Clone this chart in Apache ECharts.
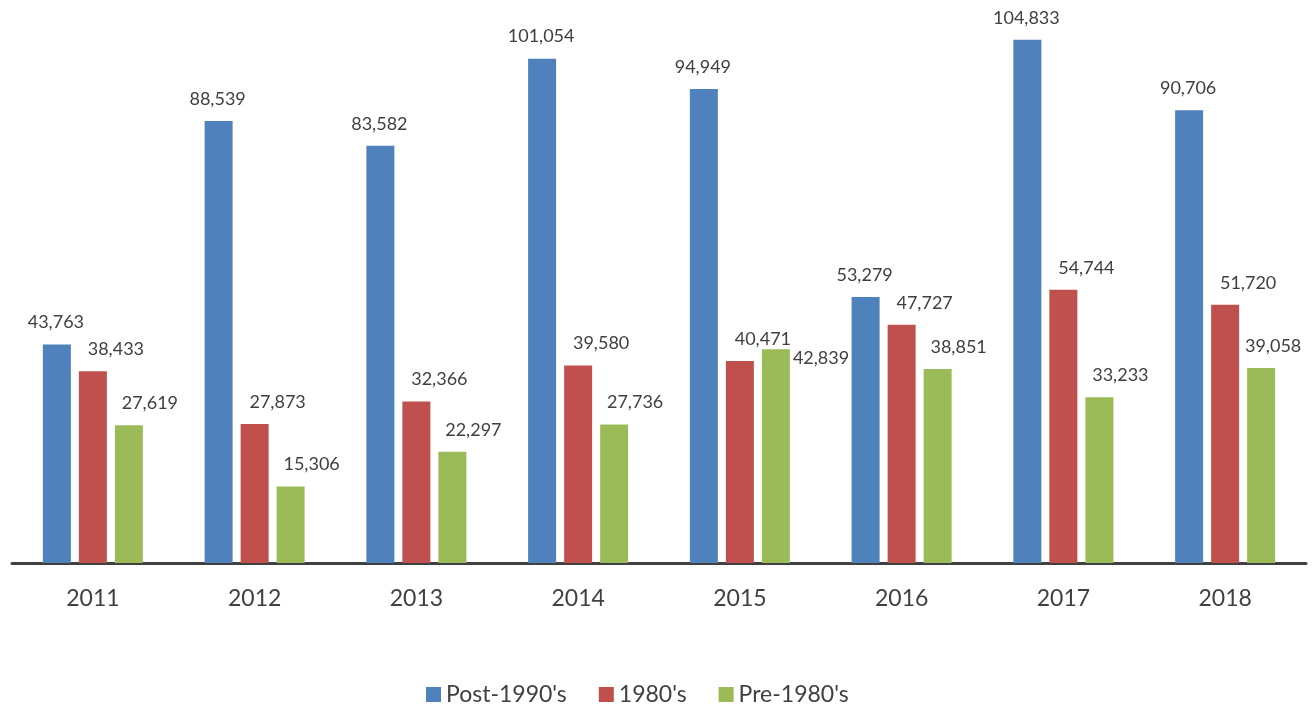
<!DOCTYPE html>
<html>
<head>
<meta charset="utf-8">
<script src="https://cdn.jsdelivr.net/npm/echarts@6/dist/echarts.min.js"></script>
<style>html,body{margin:0;padding:0;background:#fff}#c{width:1314px;height:709px}</style>
</head>
<body>
<div id="c"></div>
<script>
const categories = ['2011','2012','2013','2014','2015','2016','2017','2018'];
const seriesNames = ["Post-1990's", "1980's", "Pre-1980's"];
const post1990 = [43763, 88539, 83582, 101054, 94949, 53279, 104833, 90706];
const y1980s = [38433, 27873, 32366, 39580, 40471, 47727, 54744, 51720];
const pre1980 = [27619, 15306, 22297, 27736, 42839, 38851, 33233, 39058];
const colors = ['#4F81BD', '#C0504D', '#9BBB59'];

const font = 'Lato, "Open Sans", sans-serif';
const fmt = p => Number(p.value).toLocaleString('en-US');

function mkData(arr, special) {
  return arr.map((v, i) => {
    if (special && special[i]) return { value: v, label: special[i] };
    return v;
  });
}

function series(name, arr, color, dx, special) {
  return {
    name: name,
    type: 'bar',
    barWidth: 28,
    barGap: '28.6%',
    itemStyle: { color: color },
    label: {
      show: true,
      position: 'top',
      distance: 13,
      offset: [dx, 0],
      formatter: fmt,
      color: '#404040',
      fontFamily: font,
      fontSize: 18
    },
    data: mkData(arr, special)
  };
}

const chart = echarts.init(document.getElementById('c'));
chart.setOption({
  animation: false,
  textStyle: { fontFamily: font },
  grid: { left: 12, right: 8, top: 0, bottom: 146, containLabel: false },
  legend: {
    bottom: 3,
    left: 426,
    padding: 0,
    itemWidth: 15,
    itemHeight: 15,
    itemGap: 32,
    icon: 'rect',
    textStyle: { fontFamily: font, fontSize: 23, color: '#404040' },
    data: seriesNames
  },
  xAxis: {
    type: 'category',
    data: categories,
    axisLine: { lineStyle: { color: '#404040', width: 3 } },
    axisTick: { show: false },
    axisLabel: { color: '#404040', fontSize: 23, fontFamily: font, margin: 24 }
  },
  yAxis: {
    type: 'value',
    min: 0,
    max: 112800,
    show: false,
    splitLine: { show: false }
  },
  series: [
    series(seriesNames[0], post1990, colors[0], -1),
    series(seriesNames[1], y1980s, colors[1], 23),
    series(seriesNames[2], pre1980, colors[2], 21, {
      4: { position: [31, 0], align: 'left', verticalAlign: 'top', offset: [0, 0], distance: 0 },
      7: { offset: [12, 0] }
    })
  ]
});
</script>
</body>
</html>
